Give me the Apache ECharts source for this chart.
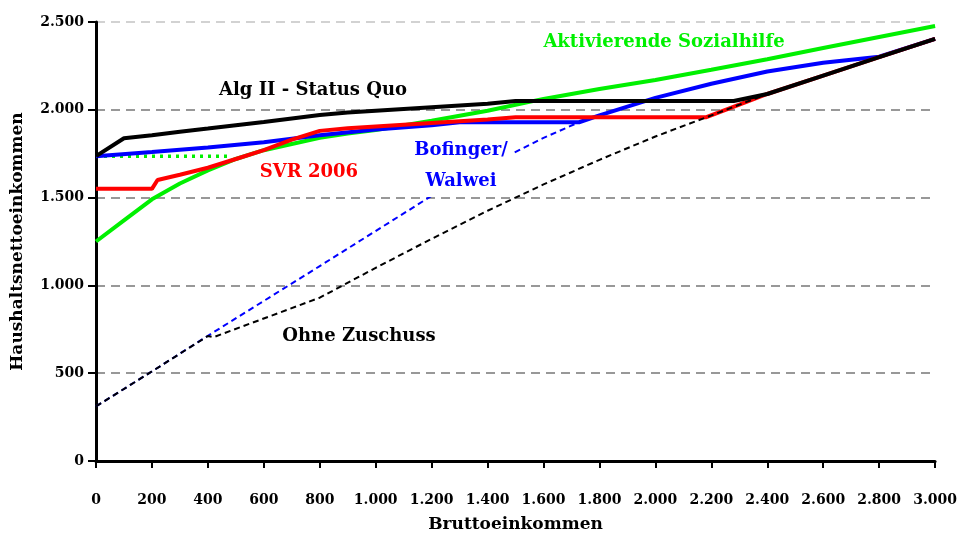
<!DOCTYPE html>
<html>
<head>
<meta charset="utf-8">
<script src="https://cdn.jsdelivr.net/npm/echarts@6/dist/echarts.min.js"></script>
<style>
  html, body { margin: 0; padding: 0; background: #fff; }
  #chart { width: 960px; height: 538px; }
</style>
</head>
<body>
<div id="chart"></div>
<script>
  var algII = [[0, 1736], [100, 1838], [200, 1855], [300, 1875], [400, 1893], [500, 1912], [600, 1930],
    [700, 1950], [800, 1970], [900, 1985], [1000, 1995], [1200, 2015], [1400, 2035], [1500, 2050],
    [2280, 2050], [2400, 2090], [2600, 2195], [2800, 2300], [3000, 2404]];
  var aktivierend = [[0, 1250], [100, 1370], [200, 1490], [300, 1580], [400, 1655], [500, 1720], [600, 1770],
    [700, 1805], [800, 1840], [900, 1865], [1000, 1885], [1200, 1938], [1400, 1995], [1600, 2062],
    [1800, 2118], [2000, 2170], [2200, 2228], [2400, 2288], [2600, 2352], [2800, 2415], [3000, 2477]];
  var aktivierendSockel = [[0, 1736], [480, 1736]];
  var svr = [[0, 1550], [200, 1550], [220, 1600], [300, 1630], [400, 1670], [500, 1720], [600, 1770],
    [700, 1830], [800, 1880], [900, 1895], [1000, 1905], [1200, 1925], [1400, 1945], [1500, 1957],
    [2180, 1957], [2300, 2030], [2400, 2090], [2600, 2195], [2800, 2300], [3000, 2404]];
  var bofinger = [[0, 1736], [200, 1760], [400, 1785], [600, 1815], [800, 1855], [1000, 1888], [1200, 1912],
    [1300, 1929], [1727, 1929], [1800, 1968], [2000, 2068], [2200, 2148], [2400, 2218], [2600, 2268],
    [2800, 2302], [3000, 2404]];
  var bofingerOhne = [[0, 311], [200, 510], [400, 713], [800, 1110], [1200, 1510], [1400, 1680],
    [1600, 1840], [1727, 1929]];
  var ohneZuschuss = [[0, 311], [200, 510], [400, 712], [420, 705], [800, 930], [1000, 1100], [1200, 1265],
    [1400, 1425], [1600, 1575], [1800, 1715], [2000, 1848], [2200, 1968], [2400, 2090], [2600, 2195],
    [2800, 2300], [3000, 2404]];

  var serif = 'DejaVu Serif';

  function tausend(v) {
    return String(v).replace(/\B(?=(\d{3})+(?!\d))/g, '.');
  }

  function linie(name, data, color, width, type, z) {
    return {
      name: name,
      type: 'line',
      data: data,
      symbol: 'none',
      z: z,
      lineStyle: { color: color, width: width, type: type },
      animation: false
    };
  }

  function label(text, x, y, color, extra) {
    var s = {
      text: text,
      x: x,
      y: y,
      align: 'center',
      verticalAlign: 'middle',
      fill: color,
      font: 'bold 18px "' + serif + '"'
    };
    for (var k in extra) s[k] = extra[k];
    return { type: 'text', z: 100, style: s };
  }

  var chart = echarts.init(document.getElementById('chart'));
  chart.setOption({
    backgroundColor: '#fff',
    animation: false,
    grid: { left: 96, right: 23, top: 22, bottom: 74 },
    xAxis: {
      type: 'value',
      min: 0,
      max: 3000,
      interval: 200,
      name: 'Bruttoeinkommen',
      nameLocation: 'middle',
      nameGap: 55,
      nameTextStyle: { fontFamily: serif, fontWeight: 'bold', fontSize: 17, color: '#000' },
      axisLine: { lineStyle: { color: '#000', width: 3 } },
      axisTick: { show: true, length: 7, lineStyle: { color: '#000', width: 2 } },
      axisLabel: { margin: 32, fontFamily: serif, fontWeight: 'bold', fontSize: 14, color: '#000',
        formatter: tausend },
      splitLine: { show: false }
    },
    yAxis: {
      type: 'value',
      min: 0,
      max: 2500,
      interval: 500,
      name: 'Haushaltsnettoeinkommen',
      nameLocation: 'middle',
      nameGap: 70,
      nameTextStyle: { fontFamily: serif, fontWeight: 'bold', fontSize: 17, color: '#000' },
      axisLine: { show: true, lineStyle: { color: '#000', width: 3 } },
      axisTick: { show: true, length: 8, lineStyle: { color: '#000', width: 2 } },
      axisLabel: { margin: 12, fontFamily: serif, fontWeight: 'bold', fontSize: 14, color: '#000',
        formatter: tausend },
      splitLine: { show: true, lineStyle: { color: ['#777', '#777', '#777', '#777', '#777', '#c4c4c4'],
        width: 1.5, type: [9, 6] } }
    },
    series: [
      linie('Aktivierende Sozialhilfe Sockel', aktivierendSockel, '#00f000', 3.5, [3, 5], 2),
      linie('Bofinger/Walwei ohne', bofingerOhne, '#0000ff', 2, [6, 4], 3),
      linie('Aktivierende Sozialhilfe', aktivierend, '#00f000', 4, 'solid', 4),
      linie('Bofinger/Walwei', bofinger, '#0000ff', 4, 'solid', 5),
      linie('SVR 2006', svr, '#ff0000', 4, 'solid', 6),
      linie('Ohne Zuschuss', ohneZuschuss, '#000', 2, [6, 4], 7),
      linie('Alg II - Status Quo', algII, '#000', 4, 'solid', 8)
    ],
    graphic: [
      label('Aktivierende Sozialhilfe', 664, 42, '#00f000'),
      label('Alg II - Status Quo', 313, 90, '#000'),
      label('SVR 2006', 309, 172, '#ff0000'),
      label('Bofinger/\nWalwei', 461, 166, '#0000ff',
        { lineHeight: 31, backgroundColor: '#fff', padding: [0, 6] }),
      label('Ohne Zuschuss', 359, 336, '#000')
    ]
  });
</script>
</body>
</html>
